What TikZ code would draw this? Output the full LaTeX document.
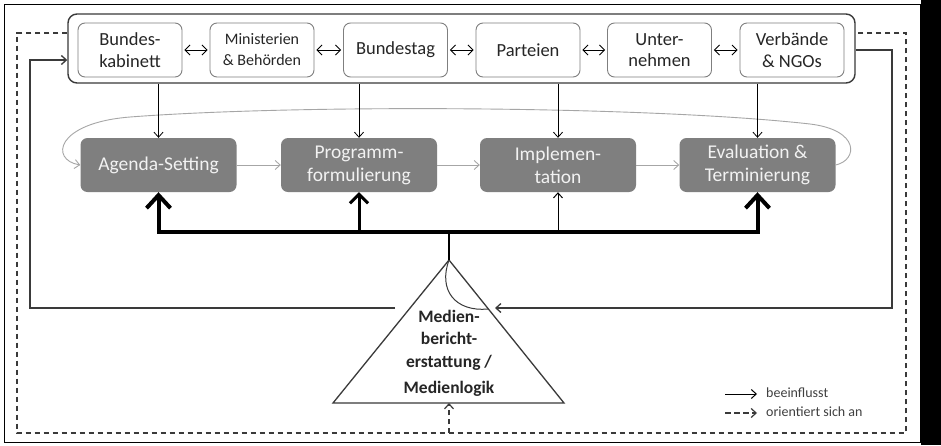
\documentclass[tikz,border=0pt]{standalone}
\usepackage{fontspec}
\setmainfont{Carlito}
\usetikzlibrary{arrows.meta}
\definecolor{boxgray}{HTML}{7F7F7F}
\definecolor{lightline}{HTML}{A6A6A6}
\definecolor{darkline}{HTML}{3A3A3A}
\definecolor{txt}{HTML}{262626}
\definecolor{whitetxt}{HTML}{F2F2F2}
\definecolor{legtxt}{HTML}{404040}
\begin{document}
\begin{tikzpicture}[x=1pt,y=-1pt,
  actor/.style={draw=boxgray, line width=0.9pt, rounded corners=7pt, minimum width=104pt, minimum height=54pt, align=center, text=txt, font=\fontsize{18.5}{21.5}\selectfont, inner sep=0pt},
  phase/.style={fill=boxgray, rounded corners=7pt, minimum width=156pt, minimum height=54pt, align=center, text=whitetxt, font=\fontsize{19.5}{23}\selectfont, inner sep=0pt},
  container/.style={draw=darkline, line width=1.4pt, rounded corners=9pt, minimum width=787pt, minimum height=69pt, inner sep=0pt},
  barb/.style={-{Straight Barb[length=5pt,width=9pt]}},
  dbl/.style={{Straight Barb[length=5pt,width=10pt]}-{Straight Barb[length=5pt,width=10pt]}, line width=0.8pt, shorten >=2pt, shorten <=2pt},
  down/.style={barb, line width=0.8pt, black},
  flow/.style={-{Straight Barb[length=5pt,width=9pt]}, line width=0.9pt, lightline},
  ret/.style={barb, line width=1.3pt, darkline},
  orient/.style={dash pattern=on 5.5pt off 3.5pt, line width=1.2pt, darkline},
  medtxt/.style={align=center, text=txt, font=\bfseries\fontsize{17.5}{22.5}\selectfont},
  legend/.style={anchor=west, text=legtxt, font=\fontsize{14}{16}\selectfont, inner sep=0pt}
]
\useasboundingbox (0,0) rectangle (941,445);
% frame
\fill[white] (0,0) rectangle (941,445);
\draw[line width=1.6pt] (4.5,4.5) rectangle (921,442.5);
\fill[black] (921,0) rectangle (941,445);

% container and actors
\node[container] (cont) at (461.5,48.5) {};
\node[actor] (a1) at (130,50) {Bundes-\\kabinett};
\node[actor, font=\fontsize{16}{21}\selectfont] (a2) at (262,50) {Ministerien\\\& Behörden};
\node[actor] (a3) at (395.5,50) {Bundestag};
\node[actor] (a4) at (528,50) {Parteien};
\node[actor] (a5) at (659.5,50) {Unter-\\nehmen};
\node[actor] (a6) at (792,50) {Verbände\\\& NGOs};
\draw[dbl] (a1) -- (a2);
\draw[dbl] (a2) -- (a3);
\draw[dbl] (a3) -- (a4);
\draw[dbl] (a4) -- (a5);
\draw[dbl] (a5) -- (a6);

% phases
\node[phase] (p1) at (158.5,165) {Agenda-Setting};
\node[phase] (p2) at (359,165) {Programm-\\formulierung};
\node[phase] (p3) at (558,165) {Implemen-\\tation};
\node[phase] (p4) at (757.5,165) {Evaluation \&\\Terminierung};
\draw[flow] (p1) -- (p2);
\draw[flow] (p2) -- (p3);
\draw[flow] (p3) -- (p4);
\draw[flow] (p4.east) .. controls (858,160) and (860,130) .. (810,124)
  .. controls (650,106) and (300,104) .. (130,117)
  .. controls (55,123) and (50,160) .. (p1.west);

% actors -> phases
\draw[down] (cont.south -| p1) -- (p1.north);
\draw[down] (cont.south -| p2) -- (p2.north);
\draw[down] (cont.south -| p3) -- (p3.north);
\draw[down] (cont.south -| p4) -- (p4.north);

% triangle
\coordinate (apex) at (449,260);
\coordinate (bl) at (333,403);
\coordinate (br) at (564,403);
\coordinate (tb) at (449,403);
\coordinate (bary) at (449,232);
\draw[line width=1.3pt, darkline, line join=miter] (apex) -- (bl) -- (br) -- cycle;
\draw[line width=1pt, darkline] (apex) .. controls (438,290) and (455,312) .. (488,309);
\node[medtxt] (med) at (449,340) {Medien-\\bericht-\\erstattung /};
\node[medtxt] (med2) at (449,389) {Medienlogik};

% media influence bar
\draw[line width=1.5pt] (apex) -- (bary);
\draw[line width=4pt, line join=miter,
  {Straight Barb[length=13pt,width=24pt]}-{Straight Barb[length=13pt,width=24pt]}]
  (p1.south) -- (p1.south |- bary) -- (p4.south |- bary) -- (p4.south);
\draw[line width=3pt, -{Straight Barb[length=9pt,width=18pt]}] (p2.south |- bary) -- (p2.south);
\draw[down, line width=1pt] (p3.south |- bary) -- (p3.south);

% return loops
\coordinate (lstart) at (395,308);
\coordinate (rend) at (495,308);
\draw[ret] (lstart) -- (30,308) -- (30,60) -- (cont.west |- 0,60);
\draw[ret] (cont.east |- 0,50) -- (892,50) -- (892,308) -- (rend);

% orientation loop
\draw[orient] (cont.west |- 0,33) -- (17,33) -- (17,433) -- (906,433) -- (906,33) -- (cont.east |- 0,33);
\draw[orient, barb] (449,433) -- (tb);

% legend
\coordinate (l1a) at (725,394);
\coordinate (l1b) at (757,394);
\coordinate (l2a) at (725,413);
\coordinate (l2b) at (757,413);
\draw[barb, line width=1pt] (l1a) -- (l1b);
\draw[orient, barb] (l2a) -- (l2b);
\node[legend] (lg1) at (766,393) {beeinflusst};
\node[legend] (lg2) at (766,412) {orientiert sich an};
\end{tikzpicture}
\end{document}
